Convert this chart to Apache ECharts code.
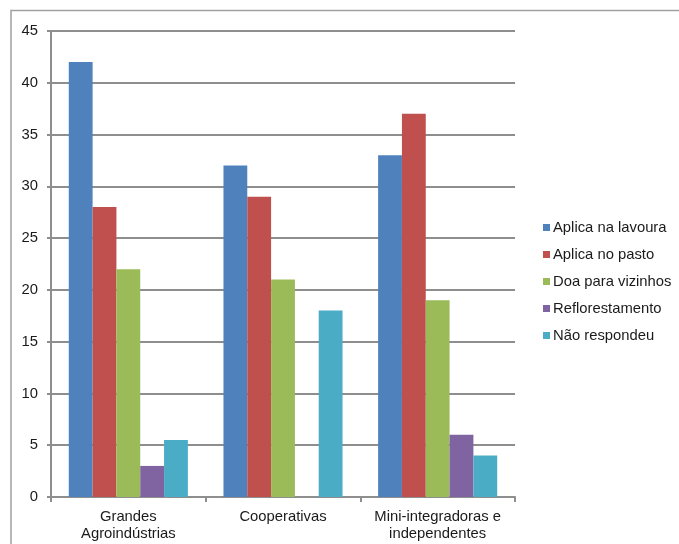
<!DOCTYPE html>
<html>
<head>
<meta charset="utf-8">
<script src="https://cdn.jsdelivr.net/npm/echarts@6/dist/echarts.min.js"></script>
<style>
html,body{margin:0;padding:0;background:#fff;}
#c{width:679px;height:544px;}
</style>
</head>
<body>
<div id="c"></div>
<script>
const categories = ["Grandes\nAgroindústrias", "Cooperativas", "Mini-integradoras e\nindependentes"];
const seriesNames = ["Aplica na lavoura", "Aplica no pasto", "Doa para vizinhos", "Reflorestamento", "Não respondeu"];
const aplicaLavoura = [42, 32, 33];
const aplicaPasto = [28, 29, 37];
const doaVizinhos = [22, 21, 19];
const reflorestamento = [3, 0, 6];
const naoRespondeu = [5.5, 18, 4];
const yTicks = [0, 5, 10, 15, 20, 25, 30, 35, 40, 45];
const colors = ["#4f81bd", "#c0504d", "#9bbb59", "#8064a2", "#4bacc6"];

const values = [aplicaLavoura, aplicaPasto, doaVizinhos, reflorestamento, naoRespondeu];
const chart = echarts.init(document.getElementById('c'), null, {renderer: 'canvas'});
const font = "'Liberation Sans', Arial, sans-serif";
const fs = 14.8;
chart.setOption({
  animation: false,
  backgroundColor: '#fff',
  color: colors,
  graphic: [{
    type: 'rect',
    shape: {x: 11, y: 10.5, width: 700, height: 600},
    style: {fill: 'none', stroke: '#a0a0a0', lineWidth: 1.5},
    silent: true
  }],
  grid: {left: 51, top: 31, right: 164, bottom: 47, containLabel: false},
  legend: {
    orient: 'vertical',
    left: 538,
    top: 214,
    itemWidth: 7,
    itemHeight: 7,
    itemGap: 10,
    icon: 'rect',
    data: seriesNames,
    textStyle: {fontFamily: font, fontSize: fs, color: '#1a1a1a', lineHeight: 17, padding: [0, 0, 0, -2]}
  },
  xAxis: {
    type: 'category',
    data: categories,
    axisLine: {lineStyle: {color: '#8e8e8e', width: 2}},
    axisTick: {show: true, length: 5, lineStyle: {color: '#8e8e8e', width: 2}},
    axisLabel: {fontFamily: font, fontSize: fs, color: '#1a1a1a', lineHeight: 17, margin: 11, interval: 0}
  },
  yAxis: {
    type: 'value',
    min: yTicks[0],
    max: yTicks[yTicks.length - 1],
    interval: 5,
    axisLine: {show: true, lineStyle: {color: '#8e8e8e', width: 2}},
    axisTick: {show: true, length: 4, lineStyle: {color: '#8e8e8e', width: 2}},
    splitLine: {lineStyle: {color: '#8e8e8e', width: 2}},
    axisLabel: {fontFamily: font, fontSize: fs, color: '#1a1a1a', margin: 13}
  },
  series: seriesNames.map((n, i) => ({
    name: n,
    type: 'bar',
    data: values[i],
    barGap: '0%',
    barCategoryGap: '23%',
    itemStyle: {color: colors[i]}
  }))
});
</script>
</body>
</html>
